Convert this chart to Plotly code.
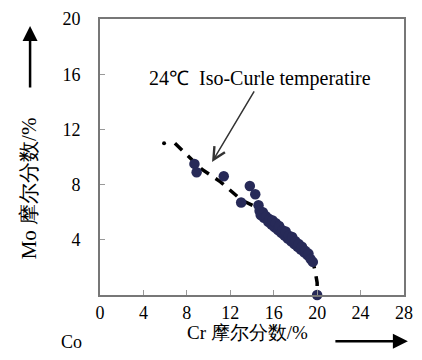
import plotly.graph_objects as go

# ---- data ----
circle_x = [8.7, 8.9, 11.4, 13.0, 13.8, 14.3, 14.6, 14.7, 14.8, 15.0, 15.1, 15.3, 15.5, 15.6,
            15.8, 15.9, 16.1, 16.2, 16.4, 16.5, 16.7, 16.8, 17.0, 17.1, 17.3, 17.4, 17.6,
            17.7, 17.9, 18.0, 18.2, 18.3, 18.5, 18.6, 18.8, 18.9, 19.1, 19.2, 19.4, 19.6, 20.0]
circle_y = [9.5, 8.9, 8.6, 6.7, 7.9, 7.3, 6.5, 6.1, 5.8, 6.0, 5.6, 5.7, 5.3, 5.5,
            5.1, 5.4, 4.9, 5.2, 4.7, 5.0, 4.5, 4.7, 4.3, 4.6, 4.1, 4.3, 3.9,
            4.2, 3.7, 3.9, 3.5, 3.7, 3.3, 3.5, 3.1, 3.2, 2.9, 3.0, 2.6, 2.4, 0.0]

curve_x = [6.9, 8.0, 9.4, 11.1, 13.0, 14.8, 15.9, 17.05, 18.1, 19.0, 19.6, 19.8, 20.0, 20.0]
curve_y = [11.0, 10.2, 9.1, 8.2, 6.9, 6.2, 5.4, 4.5, 3.7, 3.1, 2.4, 1.8, 0.9, 0.0]

dot_x = [5.9]
dot_y = [11.0]

x_ticks = [0, 4, 8, 12, 16, 20, 24, 28]
y_ticks = [4, 8, 12, 16, 20]

annot_text = "24℃  Iso-Curle temperatire"
x_title = "Cr 摩尔分数/%"
y_title = "Mo 摩尔分数/%"
origin_label = "Co"

SERIF = "Liberation Serif, Times New Roman, serif"

fig = go.Figure()
fig.add_trace(go.Scatter(x=curve_x, y=curve_y, mode="lines",
                         line=dict(color="black", width=3.5, dash="10px,8px"),
                         hoverinfo="skip", showlegend=False, cliponaxis=False))
fig.add_trace(go.Scatter(x=circle_x, y=circle_y, mode="markers",
                         marker=dict(color="#272a58", size=10.5, line=dict(width=0)),
                         showlegend=False, cliponaxis=False))
fig.add_trace(go.Scatter(x=dot_x, y=dot_y, mode="markers",
                         marker=dict(color="black", size=4),
                         showlegend=False))

axis_common = dict(showgrid=False, zeroline=False, showline=True, mirror=True,
                   linecolor="#777777", linewidth=2, ticks="inside", ticklen=5,
                   tickcolor="#999999", tickwidth=1,
                   tickfont=dict(family=SERIF, size=18, color="black"))

fig.update_layout(
    width=422, height=360,
    margin=dict(l=100, r=9, t=15, b=65),
    paper_bgcolor="white", plot_bgcolor="white",
    xaxis=dict(range=[0, 28], tickvals=x_ticks, ticklabelstandoff=0, **axis_common),
    yaxis=dict(range=[0, 20], tickvals=y_ticks, ticklabelstandoff=14, **axis_common),
    annotations=[
        dict(x=10.32, y=9.64, xref="x", yref="y", ax=43, ay=-72, axref="pixel", ayref="pixel",
             showarrow=True, arrowhead=5, arrowsize=1.6, arrowwidth=1.5, arrowcolor="#333333",
             text=""),
        dict(x=14.7, y=15.7, xref="x", yref="y", text=annot_text, showarrow=False,
             xanchor="center", yanchor="middle",
             font=dict(family=SERIF, size=20, color="black")),
        dict(x=0.486, y=-0.136, xref="paper", yref="paper", text=x_title, showarrow=False,
             xanchor="center", yanchor="middle",
             font=dict(family=SERIF, size=19, color="black")),
        dict(x=-0.235, y=0.385, xref="paper", yref="paper", text=y_title, showarrow=False,
             xanchor="center", yanchor="middle",
             textangle=-90, font=dict(family=SERIF, size=21, color="black")),
        dict(x=-0.0927, y=-0.171, xref="paper", yref="paper", text=origin_label, showarrow=False,
             xanchor="center", yanchor="middle",
             font=dict(family=SERIF, size=18, color="black")),
        dict(x=-0.230, y=0.975, xref="paper", yref="paper", ax=0, ay=63, axref="pixel",
             ayref="pixel", showarrow=True, arrowhead=2, arrowsize=1.2, arrowwidth=2.5,
             arrowcolor="black", text=""),
        dict(x=1.0128, y=-0.168, xref="paper", yref="paper", ax=-74, ay=0, axref="pixel",
             ayref="pixel", showarrow=True, arrowhead=2, arrowsize=1.2, arrowwidth=2.5,
             arrowcolor="black", text=""),
    ],
)

fig.write_html("out.html")
